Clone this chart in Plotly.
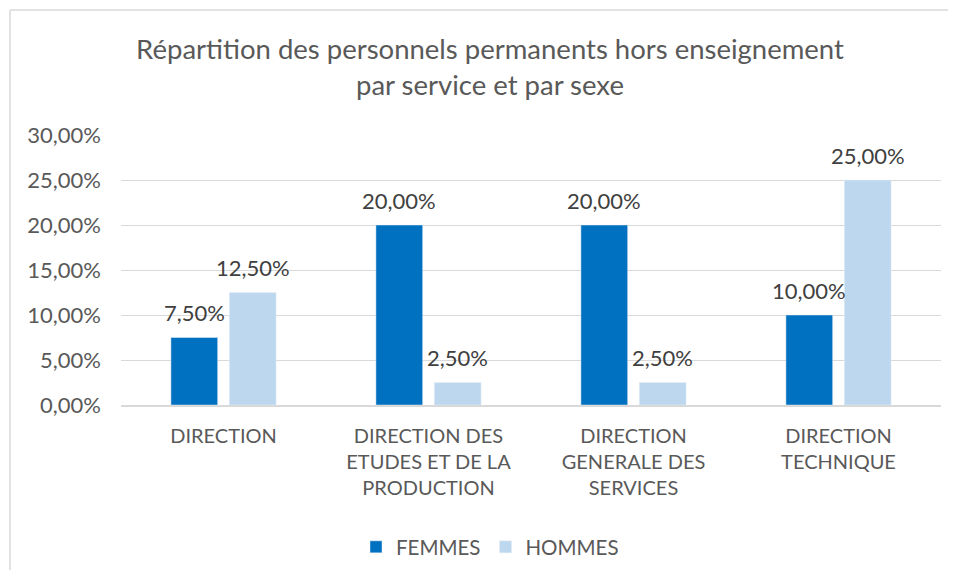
import plotly.graph_objects as go

categories = ["DIRECTION", "DIRECTION DES<br>ETUDES ET DE LA<br>PRODUCTION",
              "DIRECTION<br>GENERALE DES<br>SERVICES", "DIRECTION<br>TECHNIQUE"]
femmes = [0.075, 0.20, 0.20, 0.10]
hommes = [0.125, 0.025, 0.025, 0.25]
y_ticks = [0, 0.05, 0.10, 0.15, 0.20, 0.25, 0.30]
y_tick_labels = ["0,00%", "5,00%", "10,00%", "15,00%", "20,00%", "25,00%", "30,00%"]

FONT = "Lato"
GREY = "#595959"
NUM_SIZE = 22

def fmt(v):
    return f"{v*100:.2f}%".replace(".", ",")

# The page body has an 8px margin; the figure is sized to fit the window.
OFF = 8
W, H = 940, 562
# plot area in page pixels
PL, PR, PT, PB = 121, 941, 135, 405
L, T = PL - OFF, PT - OFF
R, B = W - (PR - OFF), H - (PB - OFF)
pw, ph = W - L - R, H - T - B

def px(xp):  # page x -> paper x
    return (xp - PL) / pw

def py(yp):  # page y -> paper y
    return (PB - yp) / ph

BARGAP, GROUPGAP = 0.43, 0.2
slot = pw / len(categories) * (1 - BARGAP) / 2

fig = go.Figure()
fig.add_trace(go.Bar(name="FEMMES", x=categories, y=femmes, marker_color="#0070C0"))
fig.add_trace(go.Bar(name="HOMMES", x=categories, y=hommes, marker_color="#BDD7EE"))

annotations = []
for series, shift in ((femmes, -slot / 2), (hommes, slot / 2)):
    for cat, v in zip(categories, series):
        annotations.append(dict(x=cat, y=v, xref="x", yref="y", text=fmt(v),
                                showarrow=False, xshift=shift, yshift=25,
                                yanchor="middle", xanchor="center",
                                font=dict(family=FONT, size=NUM_SIZE, color="#404040")))

fig.update_layout(
    width=W, height=H,
    margin=dict(l=L, r=R, t=T, b=B, autoexpand=False),
    paper_bgcolor="white", plot_bgcolor="white",
    barmode="group", bargap=BARGAP, bargroupgap=GROUPGAP,
    font=dict(family=FONT, color=GREY, size=20),
    title=dict(text="Répartition des personnels permanents hors enseignement<br>par service et par sexe",
               x=px(490), xref="paper", xanchor="center",
               y=1 - 51 / H, yref="container", yanchor="top",
               font=dict(family=FONT, size=27.5, color=GREY)),
    legend=dict(orientation="h", x=px(490), xanchor="center",
                y=py(547), yanchor="middle",
                font=dict(family=FONT, size=20.5, color=GREY),
                itemwidth=30, traceorder="normal"),
    yaxis=dict(range=[0, 0.30], tickvals=y_ticks, ticktext=y_tick_labels,
               showgrid=True, gridcolor="#D9D9D9", gridwidth=1, automargin=False,
               zeroline=False, showline=False, ticks="", ticklabelstandoff=19,
               tickfont=dict(family=FONT, size=NUM_SIZE, color=GREY)),
    xaxis=dict(showline=True, linecolor="#D9D9D9", linewidth=1.5, ticks="",
               ticklabelstandoff=12, automargin=False,
               tickfont=dict(family=FONT, size=20, color=GREY)),
    annotations=annotations,
    shapes=[
        dict(type="line", xref="paper", yref="paper",
             x0=px(10), x1=px(10), y0=py(10), y1=py(600),
             line=dict(color="#D9D9D9", width=1.5)),
        dict(type="line", xref="paper", yref="paper",
             x0=px(10), x1=px(960), y0=py(10), y1=py(10),
             line=dict(color="#D9D9D9", width=1.5)),
    ],
)

fig.write_html("out.html")
